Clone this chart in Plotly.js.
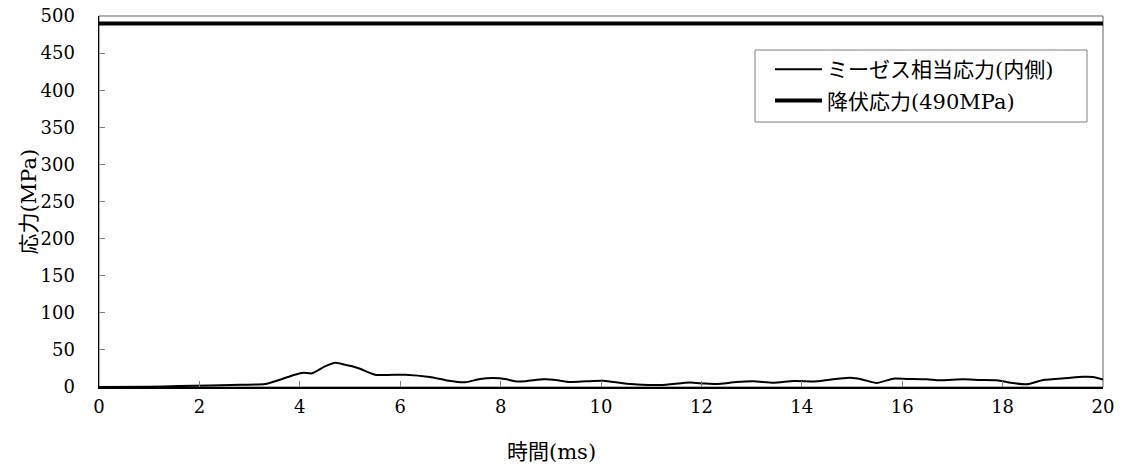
<!DOCTYPE html>
<html>
<head>
<meta charset="utf-8">
<script src="https://cdn.plot.ly/plotly-3.0.1.min.js"></script>
<style>html,body{margin:0;padding:0;background:#fff;}#chart{width:1123px;height:468px;}</style>
</head>
<body>
<div id="chart"></div>
<script>
const timeMs = [0, 1, 1.58, 2.84, 3.31, 3.57, 3.9, 4.07, 4.24, 4.5, 4.71, 4.9, 5.09, 5.2, 5.5, 6.1, 6.59, 6.93, 7.29, 7.59, 7.85, 8.12, 8.29, 8.5, 8.85, 9.05, 9.38, 9.7, 10.05, 10.51, 11.18, 11.77, 12.04, 12.3, 12.7, 13.04, 13.44, 13.84, 14.3, 14.56, 14.96, 15.22, 15.49, 15.82, 16.09, 16.49, 16.75, 17.22, 17.55, 17.88, 18.21, 18.48, 18.81, 19.28, 19.61, 19.8, 20];
const misesStress = [0, 0.3, 1.3, 3, 4, 9, 16.6, 19.3, 18.4, 27.8, 32.7, 30, 27, 24.6, 16.6, 16.6, 13.5, 8.9, 6.3, 10.8, 12.1, 10.3, 7.6, 7.9, 10.3, 9.9, 6.7, 7.6, 8.3, 4.4, 2.7, 6.0, 4.8, 4.0, 6.7, 7.6, 5.8, 8.1, 7.6, 9.9, 12.3, 9.9, 5.4, 11.2, 10.8, 10.3, 9.0, 10.3, 9.4, 9.0, 5.4, 3.6, 9.4, 12.1, 13.9, 13.5, 9.9];
const yieldTime = [0, 20];
const yieldStress = [490, 490];
const seriesNames = ["ミーゼス相当応力(内側)", "降伏応力(490MPa)"];
const xTickVals = [0, 2, 4, 6, 8, 10, 12, 14, 16, 18, 20];
const yTickVals = [0, 50, 100, 150, 200, 250, 300, 350, 400, 450, 500];
const xTitle = "時間(ms)";
const yTitle = "応力(MPa)";

const FONT = 'DejaVu Serif, Times New Roman, Noto Sans CJK JP, serif';
const L = 99, R = 1103, T = 16, B = 387;
const px = v => (v - L) / (R - L);
const py = v => (B - v) / (B - T);

const traces = [
  {x: timeMs, y: misesStress, name: seriesNames[0], type: 'scatter', mode: 'lines', legendgroup: 'a',
   line: {color: '#000', width: 2, shape: 'spline', smoothing: 0.6}},
  {x: yieldTime, y: yieldStress, name: seriesNames[1], type: 'scatter', mode: 'lines', legendgroup: 'b',
   line: {color: '#000', width: 4}}
];

const layout = {
  width: 1123, height: 468,
  margin: {l: L, r: 1123 - R, t: T, b: 468 - B},
  paper_bgcolor: '#fff', plot_bgcolor: '#fff',
  font: {family: FONT, size: 18, color: '#000'},
  showlegend: true,
  legend: {x: px(770), y: py(49), xanchor: 'left', yanchor: 'top',
           bgcolor: 'rgba(0,0,0,0)', borderwidth: 0, traceorder: 'grouped', tracegroupgap: 1,
           font: {family: FONT, size: 21, color: '#000'}, itemwidth: 47},
  xaxis: {range: [0, 20], tickvals: xTickVals, ticktext: xTickVals.map(String),
          ticks: 'inside', ticklen: 6, tickcolor: '#808080', showgrid: false, zeroline: false,
          showline: true, linecolor: '#000', linewidth: 1.5, ticklabelstandoff: 3,
          tickfont: {family: FONT, size: 18}},
  yaxis: {range: [0, 500], tickvals: yTickVals, ticktext: yTickVals.map(String),
          ticks: 'inside', ticklen: 6, tickcolor: '#808080', showgrid: false, zeroline: false,
          showline: true, linecolor: '#000', linewidth: 1.5, ticklabelstandoff: 19,
          tickfont: {family: FONT, size: 18}},
  shapes: [
    {type: 'rect', xref: 'paper', yref: 'paper', x0: 0, x1: 1, y0: 0, y1: 1,
     line: {color: '#606060', width: 1}, layer: 'below'},
    {type: 'rect', xref: 'paper', yref: 'paper', x0: px(755), x1: px(1087), y0: py(122), y1: py(50),
     line: {color: '#808080', width: 1}, fillcolor: '#fff', layer: 'above'}
  ],
  annotations: [
    {text: xTitle, xref: 'paper', yref: 'paper', x: px(551), y: py(452),
     xanchor: 'center', yanchor: 'middle', showarrow: false, font: {family: FONT, size: 21}},
    {text: yTitle, xref: 'paper', yref: 'paper', x: px(28), y: 0.5, textangle: -90,
     xanchor: 'center', yanchor: 'middle', showarrow: false, font: {family: FONT, size: 21}}
  ]
};

Plotly.newPlot('chart', traces, layout, {displayModeBar: false, staticPlot: true});
</script>
</body>
</html>
